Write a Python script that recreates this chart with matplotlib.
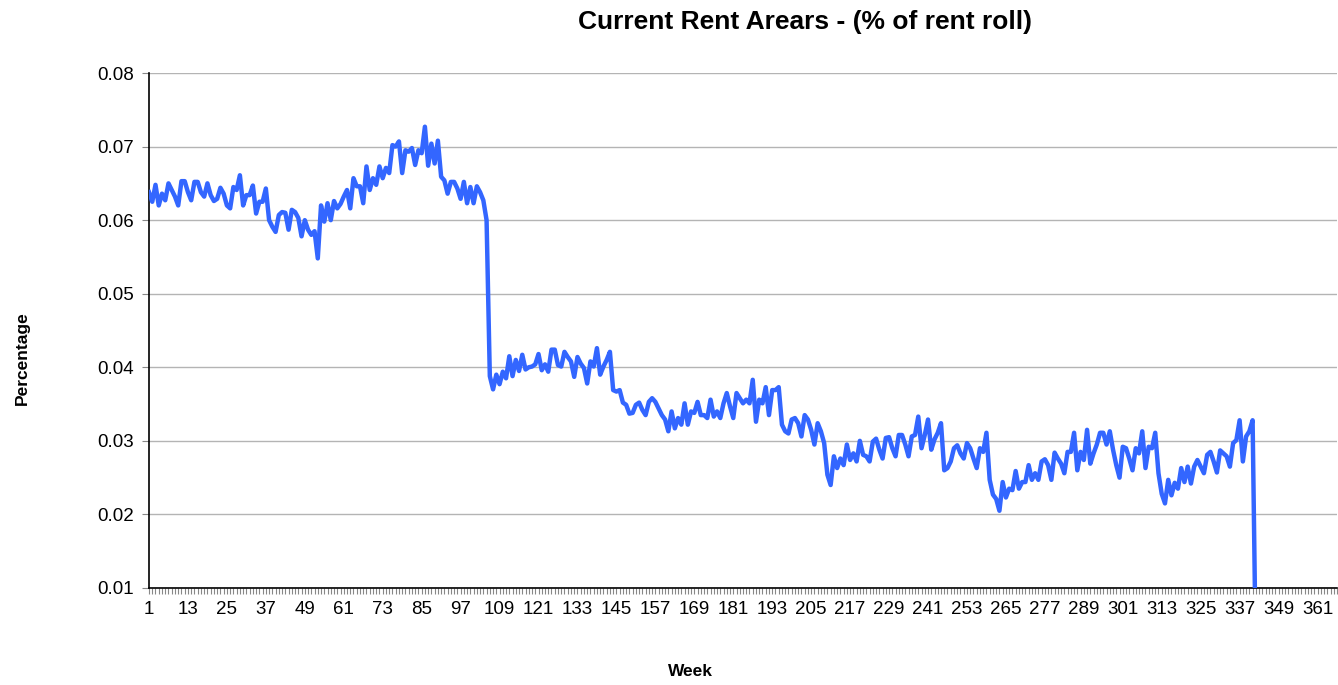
import numpy as np
import matplotlib
matplotlib.use('Agg')
import matplotlib.pyplot as plt

plt.rcParams['font.family'] = ['Liberation Sans', 'DejaVu Sans']

# weekly arrears as a share of the rent roll
arrears = [
    0.0638, 0.0625, 0.0648, 0.0620, 0.0636, 0.0627, 0.0650, 0.0641, 0.0632, 0.0620, 0.0653, 0.0653,
    0.0638, 0.0627, 0.0652, 0.0652, 0.0638, 0.0632, 0.0650, 0.0634, 0.0626, 0.0629, 0.0644, 0.0636,
    0.0620, 0.0616, 0.0645, 0.0641, 0.0661, 0.0620, 0.0634, 0.0634, 0.0647, 0.0609, 0.0625, 0.0625,
    0.0643, 0.0600, 0.0591, 0.0584, 0.0607, 0.0611, 0.0610, 0.0587, 0.0614, 0.0611, 0.0603, 0.0578,
    0.0600, 0.0587, 0.0580, 0.0585, 0.0548, 0.0620, 0.0598, 0.0623, 0.0600, 0.0626, 0.0616, 0.0622,
    0.0632, 0.0641, 0.0616, 0.0657, 0.0646, 0.0646, 0.0623, 0.0673, 0.0641, 0.0657, 0.0648, 0.0673,
    0.0657, 0.0671, 0.0664, 0.0702, 0.0700, 0.0707, 0.0664, 0.0695, 0.0693, 0.0698, 0.0675, 0.0695,
    0.0691, 0.0727, 0.0674, 0.0704, 0.0677, 0.0708, 0.0659, 0.0654, 0.0636, 0.0652, 0.0652, 0.0643,
    0.0629, 0.0652, 0.0623, 0.0645, 0.0623, 0.0646, 0.0638, 0.0627, 0.0600, 0.0388, 0.0370, 0.0390,
    0.0377, 0.0394, 0.0385, 0.0415, 0.0388, 0.0410, 0.0395, 0.0417, 0.0397, 0.0400, 0.0401, 0.0404,
    0.0418, 0.0396, 0.0404, 0.0394, 0.0424, 0.0424, 0.0403, 0.0401, 0.0421, 0.0414, 0.0408, 0.0387,
    0.0414, 0.0405, 0.0399, 0.0378, 0.0408, 0.0401, 0.0426, 0.0390, 0.0401, 0.0410, 0.0421, 0.0369,
    0.0367, 0.0369, 0.0352, 0.0349, 0.0337, 0.0338, 0.0349, 0.0352, 0.0342, 0.0335, 0.0353, 0.0358,
    0.0353, 0.0344, 0.0335, 0.0329, 0.0313, 0.0340, 0.0317, 0.0331, 0.0322, 0.0351, 0.0322, 0.0340,
    0.0338, 0.0353, 0.0335, 0.0335, 0.0331, 0.0356, 0.0333, 0.0340, 0.0331, 0.0351, 0.0365, 0.0347,
    0.0331, 0.0365, 0.0358, 0.0351, 0.0356, 0.0351, 0.0383, 0.0326, 0.0356, 0.0351, 0.0373, 0.0335,
    0.0369, 0.0369, 0.0373, 0.0322, 0.0313, 0.0310, 0.0329, 0.0331, 0.0324, 0.0306, 0.0335, 0.0329,
    0.0315, 0.0295, 0.0324, 0.0313, 0.0297, 0.0254, 0.0240, 0.0279, 0.0263, 0.0276, 0.0267, 0.0295,
    0.0274, 0.0283, 0.0272, 0.0300, 0.0281, 0.0279, 0.0272, 0.0299, 0.0303, 0.0288, 0.0276, 0.0304,
    0.0305, 0.0290, 0.0279, 0.0308, 0.0308, 0.0295, 0.0279, 0.0306, 0.0308, 0.0333, 0.0290, 0.0308,
    0.0329, 0.0288, 0.0302, 0.0311, 0.0324, 0.0260, 0.0263, 0.0272, 0.0290, 0.0294, 0.0283, 0.0276,
    0.0297, 0.0290, 0.0276, 0.0263, 0.0290, 0.0285, 0.0311, 0.0247, 0.0227, 0.0221, 0.0205, 0.0244,
    0.0223, 0.0235, 0.0233, 0.0259, 0.0235, 0.0244, 0.0244, 0.0267, 0.0247, 0.0256, 0.0247, 0.0272,
    0.0275, 0.0267, 0.0247, 0.0284, 0.0276, 0.0269, 0.0256, 0.0285, 0.0285, 0.0311, 0.0260, 0.0285,
    0.0274, 0.0315, 0.0269, 0.0283, 0.0295, 0.0311, 0.0311, 0.0295, 0.0313, 0.0288, 0.0267, 0.0250,
    0.0292, 0.0290, 0.0276, 0.0260, 0.0290, 0.0283, 0.0313, 0.0263, 0.0292, 0.0290, 0.0311, 0.0256,
    0.0228, 0.0215, 0.0247, 0.0226, 0.0243, 0.0235, 0.0263, 0.0244, 0.0265, 0.0242, 0.0265, 0.0274,
    0.0265, 0.0256, 0.0281, 0.0285, 0.0272, 0.0257, 0.0287, 0.0283, 0.0279, 0.0265, 0.0297, 0.0301,
    0.0328, 0.0272, 0.0306, 0.0313, 0.0328, 0.0,
]
weeks = np.arange(1, len(arrears) + 1)

n_categories = 367
week_labels = list(range(1, 362, 12))
y_ticks = [0.01, 0.02, 0.03, 0.04, 0.05, 0.06, 0.07, 0.08]

fig = plt.figure(figsize=(13.38, 6.85), dpi=100)
fig.patch.set_facecolor('white')
ax = fig.add_axes([149 / 1338, 1 - 588 / 685, 1188 / 1338, 515 / 685])

ax.plot(weeks, arrears, color='#3366ff', linewidth=3.2, solid_joinstyle='round', zorder=3)

ax.set_xlim(1, n_categories)
ax.set_ylim(0.01, 0.08)

# gridlines (the 0.08 one doubles as the top border)
ax.set_yticks(y_ticks)
ax.set_yticklabels([f'{v:.2f}' for v in y_ticks])
ax.yaxis.grid(True, color='#b4b4b4', linewidth=1)
ax.set_axisbelow(True)

ax.set_xticks(week_labels)
ax.set_xticklabels([str(w) for w in week_labels])
ax.set_xticks(np.arange(1, n_categories + 1), minor=True)

ax.tick_params(axis='x', which='both', direction='out', length=4, width=0.8,
               color='#888888', labelsize=13.5, pad=5)
ax.tick_params(axis='y', which='major', direction='out', length=5, width=0.8,
               color='#888888', labelsize=13.5, pad=6)

for side in ['top', 'right']:
    ax.spines[side].set_visible(False)
for side in ['left', 'bottom']:
    ax.spines[side].set_color('black')
    ax.spines[side].set_linewidth(1.2)

fig.text(805 / 1338, 1 - 22 / 685, 'Current Rent Arears - (% of rent roll)',
         ha='center', va='center', fontsize=19, fontweight='bold')
fig.text(690 / 1338, 1 - 671 / 685, 'Week', ha='center', va='center',
         fontsize=12.5, fontweight='bold')
fig.text(22 / 1338, 1 - 358 / 685, 'Percentage', ha='center', va='center',
         rotation=90, fontsize=12.5, fontweight='bold')

fig.savefig('out.png', dpi=100)
